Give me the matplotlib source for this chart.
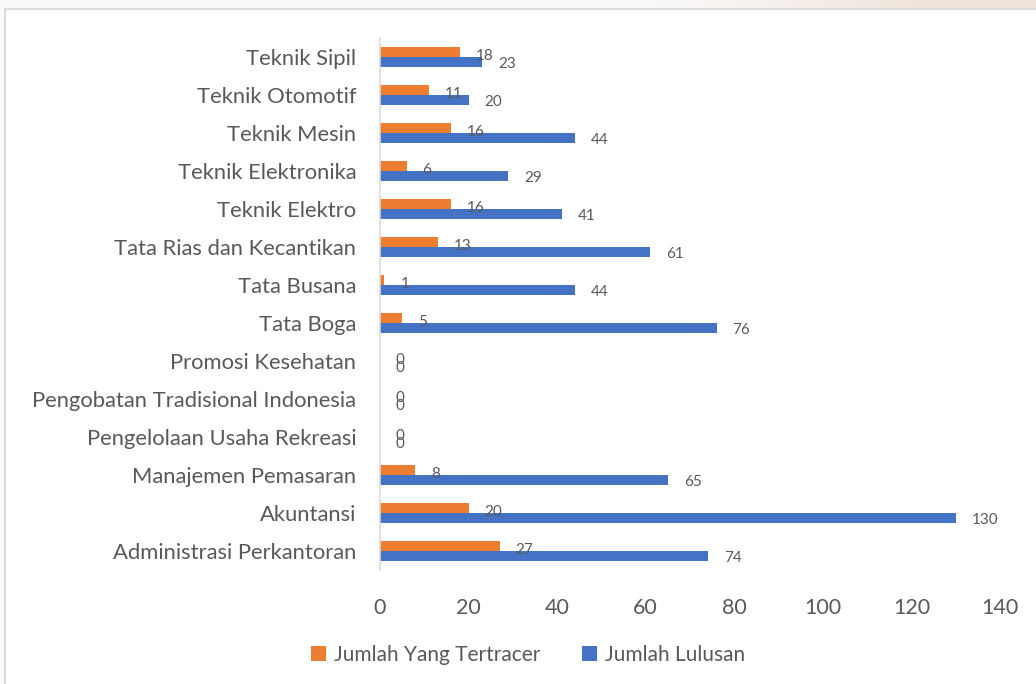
import matplotlib.pyplot as plt
from matplotlib.patches import Rectangle
import numpy as np

categories = ["Administrasi Perkantoran", "Akuntansi", "Manajemen Pemasaran",
              "Pengelolaan Usaha Rekreasi", "Pengobatan Tradisional Indonesia",
              "Promosi Kesehatan", "Tata Boga", "Tata Busana",
              "Tata Rias dan Kecantikan", "Teknik Elektro", "Teknik Elektronika",
              "Teknik Mesin", "Teknik Otomotif", "Teknik Sipil"]
tertracer = [27, 20, 8, 0, 0, 0, 5, 1, 13, 16, 6, 16, 11, 18]
lulusan = [74, 130, 65, 0, 0, 0, 76, 44, 61, 41, 29, 44, 20, 23]
xticks = [0, 20, 40, 60, 80, 100, 120, 140]

orange = "#ED7D31"
blue = "#4472C4"
gray = "#595959"

plt.rcParams['font.family'] = ['Lato', 'DejaVu Sans']

fig = plt.figure(figsize=(10.36, 6.84), dpi=100)
fig.patch.set_facecolor("#fafafa")

# page background strip (faint beige tint to the right) + white chart box
bg = fig.add_axes([0, 0, 1, 1])
bg.set_axis_off()
t = np.clip((np.linspace(0, 1036, 300) - 650) / 300, 0, 1)
c0 = np.array([0.98, 0.98, 0.98])
c1 = np.array([0.94, 0.89, 0.85])
strip = (c0[None, :] * (1 - t[:, None]) + c1[None, :] * t[:, None])[None, :, :]
bg.imshow(strip, extent=[0, 1036, 9, 0], aspect="auto", zorder=0)
bg.add_patch(Rectangle((5, 9), 1040, 690, facecolor="white", edgecolor="#dcdcdc",
                       lw=1.5, zorder=1))
bg.set_xlim(0, 1036)
bg.set_ylim(684, 0)

ax = fig.add_axes([380/1036, 1 - 570/684, 620/1036, 532/684])
ax.set_facecolor("none")
ax.set_zorder(2)

y = np.arange(len(categories))
h = 0.26
ax.barh(y + h/2, tertracer, height=h, color=orange, label="Jumlah Yang Tertracer")
ax.barh(y - h/2, lulusan, height=h, color=blue, label="Jumlah Lulusan")

# data labels, a bit off the bar ends like the original
off = 3.6
for i in range(len(categories)):
    ax.text(tertracer[i] + off, y[i] + h/2 - 0.1, str(tertracer[i]), ha="left",
            va="center", fontsize=11, color=gray)
    ax.text(lulusan[i] + off, y[i] - h/2 - 0.05, str(lulusan[i]), ha="left",
            va="center", fontsize=11, color=gray)

ax.set_xlim(0, 140)
ax.set_ylim(-0.5, len(categories) - 0.5)
ax.set_xticks(xticks)
ax.set_yticks(y)
ax.set_yticklabels(categories, fontsize=15.8)
ax.tick_params(axis="both", length=0, labelcolor=gray)
ax.tick_params(axis="x", pad=20, labelsize=15.5)
ax.tick_params(axis="y", pad=17)
for s in ["top", "right", "bottom"]:
    ax.spines[s].set_visible(False)
ax.spines["left"].set_color("#d9d9d9")
ax.spines["left"].set_linewidth(1.2)

leg = fig.legend(loc="center", bbox_to_anchor=(0.51, 1 - 655/684), ncol=2, frameon=False,
                 fontsize=15, labelcolor=gray, handlelength=0.7, handleheight=0.7,
                 handletextpad=0.4, columnspacing=2.0)
leg.set_zorder(3)

fig.savefig("out.png", dpi=100, facecolor=fig.get_facecolor())
